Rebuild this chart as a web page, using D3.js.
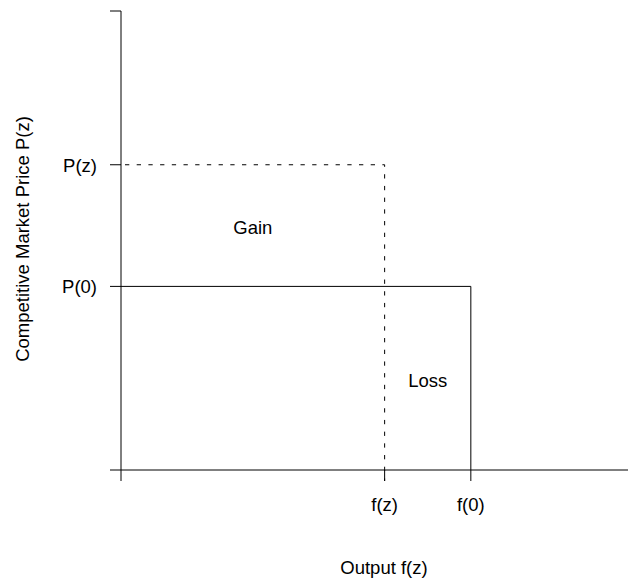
<!DOCTYPE html>
<html>
<head>
    <meta charset='utf-8'>
    <title>Gain and Loss</title>
    <script src='https://cdn.jsdelivr.net/npm/d3@7'></script>
    <style>
        body { margin: 0; background: #fff; }
        text { font-family: 'Liberation Sans', Arial, sans-serif; font-size: 18.5px; fill: #000; }
    </style>
</head>
<body>
    <svg width='638' height='584'></svg>
    <script>
        // values in axis units (0-100 on both axes)
        const xTickValues = [52, 69]
        const xTickLabels = ['f(z)', 'f(0)']
        const yTickValues = [66.5, 40]
        const yTickLabels = ['P(z)', 'P(0)']
        const areaLabels = ['Gain', 'Loss']
        const areaX = [26, 60.5]
        const areaY = [53, 19.5]
        const xTitle = 'Output f(z)'
        const yTitle = 'Competitive Market Price P(z)'

        const svg = d3.select('svg')
        const x = d3.scaleLinear([0, 100], [121, 628])
        const y = d3.scaleLinear([0, 100], [470, 11])
        const tick = 11

        const g = svg.append('g').attr('stroke', '#000').attr('stroke-width', 1).attr('fill', 'none')

        // axes through the origin, ticks outward
        g.append('line').attr('x1', x(0)).attr('x2', x(0)).attr('y1', y(100)).attr('y2', y(0) + tick)
        g.append('line').attr('x1', x(0) - tick).attr('x2', x(100)).attr('y1', y(0)).attr('y2', y(0))
        g.append('line').attr('x1', x(0) - tick).attr('x2', x(0)).attr('y1', y(100)).attr('y2', y(100))

        g.selectAll('.xt').data(xTickValues).join('line')
            .attr('x1', d => x(d)).attr('x2', d => x(d))
            .attr('y1', y(0)).attr('y2', y(0) + tick)
        g.selectAll('.yt').data(yTickValues).join('line')
            .attr('x1', x(0) - tick).attr('x2', x(0))
            .attr('y1', d => y(d)).attr('y2', d => y(d))

        // P(z), f(z): dashed
        g.append('path')
            .attr('stroke-dasharray', '4.3,7.4')
            .attr('stroke-dashoffset', 7.7)
            .attr('d', d3.line()([[x(0), y(yTickValues[0])], [x(xTickValues[0]), y(yTickValues[0])], [x(xTickValues[0]), y(0) + tick]]))
        // P(0), f(0): solid
        g.append('path')
            .attr('d', d3.line()([[x(0), y(yTickValues[1])], [x(xTickValues[1]), y(yTickValues[1])], [x(xTickValues[1]), y(0)]]))

        svg.selectAll('.xl').data(xTickLabels).join('text')
            .attr('x', (d, i) => x(xTickValues[i]))
            .attr('y', 511)
            .attr('text-anchor', 'middle')
            .text(d => d)
        svg.selectAll('.yl').data(yTickLabels).join('text')
            .attr('x', x(0) - 24)
            .attr('y', (d, i) => y(yTickValues[i]) + 7)
            .attr('text-anchor', 'end')
            .text(d => d)

        svg.selectAll('.al').data(areaLabels).join('text')
            .attr('x', (d, i) => x(areaX[i]))
            .attr('y', (d, i) => y(areaY[i]) + 7)
            .attr('text-anchor', 'middle')
            .text(d => d)

        svg.append('text').attr('x', 384).attr('y', 574).attr('text-anchor', 'middle').text(xTitle)
        svg.append('text').attr('transform', 'translate(29,239) rotate(-90)').attr('text-anchor', 'middle').text(yTitle)
    </script>
</body>
</html>
